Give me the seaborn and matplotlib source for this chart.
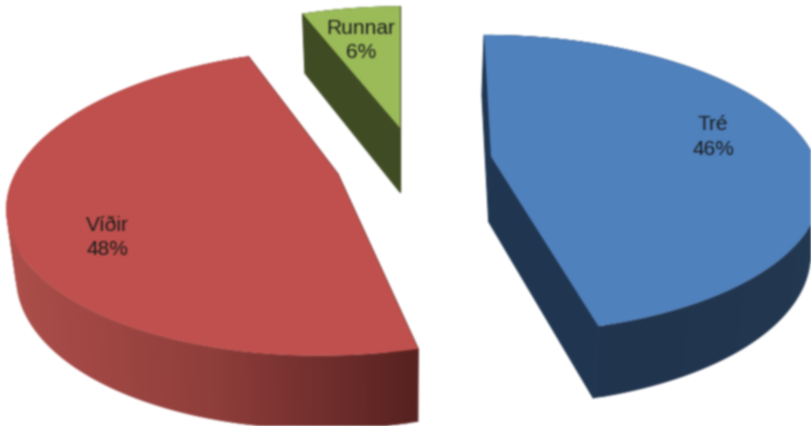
import numpy as np
import matplotlib
matplotlib.use("Agg")
import matplotlib.pyplot as plt
from matplotlib.collections import PolyCollection
import seaborn as sns

categories = ["Tré", "Víðir", "Runnar"]
percents = [46, 48, 6]

top_colors = ["#4F81BD", "#C0504D", "#9BBB59"]
cut_colors = ["#1F3550", "#5A2422", "#3F4B23"]
side_ramps = [["#1F3550", "#21344E", "#223750"],
              ["#AC4E4A", "#8E3D3A", "#55211F"],
              ["#3F4B23", "#3F4B23", "#3F4B23"]]

# where each exploded wedge has its tip on the page (pixels)
tips = [(491, 156.5), (338, 174), (400, 128)]
label_pos = [(713, 137), (107, 237.5), (361, 40.5)]

# flattened perspective of the pie, last three are per wedge
SX, SY, K = 323, 144, 0.184
VP_X = 400
leans = [0.09, 0.24, 0.0]
x_scale = [1.0, 1.0, 0.96]
y_scale = [1.0, 1.03, 1.0]


def to_page(i, t):
    # unit circle -> page, t in degrees
    tip = tips[i]
    x = np.cos(np.radians(t))
    y = np.sin(np.radians(t))
    w = 1 + K * y
    px = tip[0] + (SX * x_scale[i] * x + leans[i] * y * (VP_X - tip[0])) / w
    py = tip[1] - SY * y_scale[i] * y / w
    return px, py


def drop(px, py):
    # same point on the underside of the disc
    return VP_X + (np.asarray(px) - VP_X) * 0.975, 1.04 * np.asarray(py) + 59


def soften(img, dpi):
    # the reference is a slightly blurry screenshot
    pad = 3
    img = np.pad(img, ((pad, pad), (pad, pad), (0, 0)))
    kernel = np.array([1, 4, 6, 4, 1]) / 16

    def blur(a):
        a = np.apply_along_axis(np.convolve, 0, a, kernel, mode="same")
        return np.apply_along_axis(np.convolve, 1, a, kernel, mode="same")

    alpha = img[..., 3]
    out = np.zeros_like(img)
    soft_alpha = blur(alpha)
    for c in range(3):
        out[..., c] = blur(img[..., c] * alpha) / np.maximum(soft_alpha, 1e-4)
    out[..., 3] = soft_alpha
    return np.clip(out, 0, 1), -pad, -pad


sns.set_theme(style="white")
plt.rcParams["font.family"] = ["Liberation Sans", "DejaVu Sans"]

fig, ax = plt.subplots(figsize=(8.12, 4.26), dpi=100)
wedges, _ = ax.pie(percents, startangle=90, counterclock=False)
angles = [(w.theta1, w.theta2) for w in wedges]
ax.cla()
ax.set_position([0, 0, 1, 1])
ax.set_aspect("auto")
ax.set_xlim(0, 812)
ax.set_ylim(426, 0)
ax.axis("off")
ax.set_agg_filter(soften)

for i, (t1, t2) in enumerate(angles):
    tip = tips[i]
    t = np.linspace(t1, t2, 160)
    px, py = to_page(i, t)
    bx, by = drop(px, py)
    tbx, tby = drop(tip[0], tip[1])

    # flat cut faces first, thin edge closes the seam with the rounded side
    for k in (0, -1):
        ax.fill([tip[0], px[k], bx[k], tbx], [tip[1], py[k], by[k], tby],
                color=cut_colors[i], lw=0.8, zorder=2)

    # rounded outside, shaded left to right, quads overlap so no seams show
    ramp = sns.blend_palette(side_ramps[i], 256)
    lo, hi = bx.min(), bx.max()
    quads, shades = [], []
    for j in range(len(t) - 2):
        quads.append([(px[j], py[j]), (px[j + 2], py[j + 2]), (bx[j + 2], by[j + 2]), (bx[j], by[j])])
        shades.append(ramp[int(255 * (bx[j] - lo) / (hi - lo))])
    ax.add_collection(PolyCollection(quads, facecolors=shades, linewidths=0, zorder=3))

    ax.fill(np.r_[tip[0], px], np.r_[tip[1], py], color=top_colors[i], lw=0, zorder=4)
    ax.text(label_pos[i][0], label_pos[i][1], f"{categories[i]}\n{percents[i]}%",
            ha="center", va="center", fontsize=15, color="#1c1c1c",
            linespacing=1.35, zorder=5)

fig.savefig("out.png", dpi=100)
